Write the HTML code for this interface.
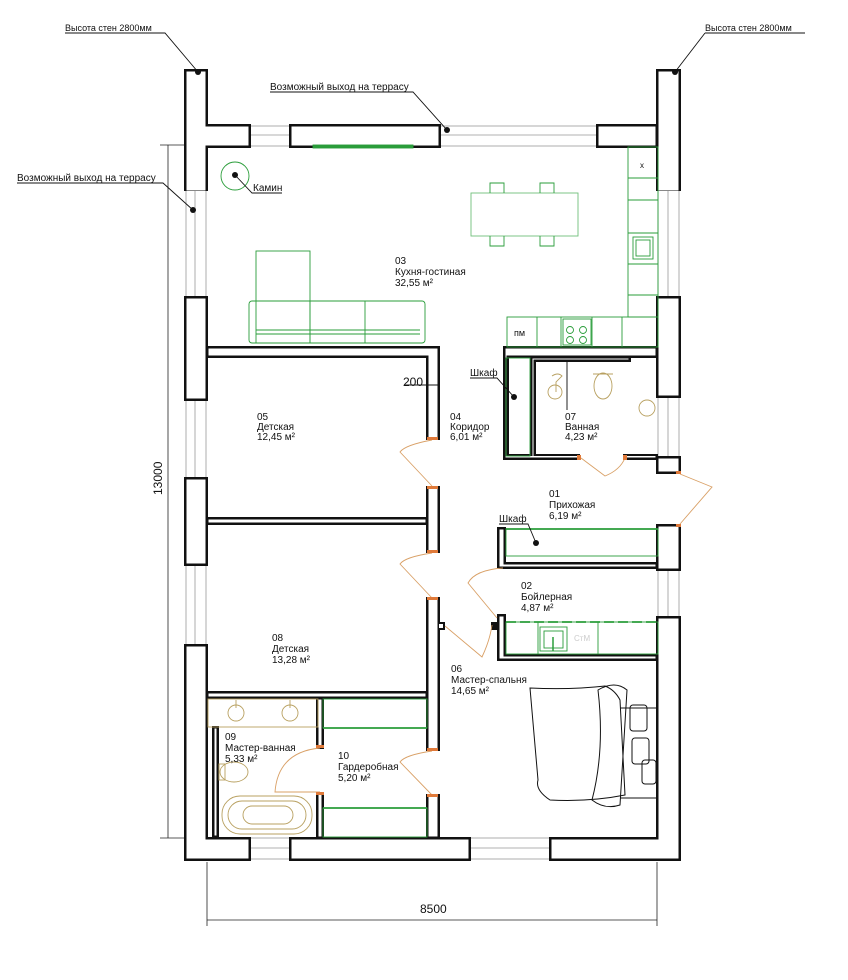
<!DOCTYPE html>
<html><head><meta charset="utf-8"><style>
html,body{margin:0;padding:0;background:#fff;}
svg{display:block;}
text{font-family:"Liberation Sans Narrow","Liberation Sans",sans-serif;font-size:10px;fill:#111;}
.t{font-size:10px;}
</style></head><body>
<svg width="848" height="980" viewBox="0 0 848 980" xmlns="http://www.w3.org/2000/svg">
<!-- dimensions -->
<g stroke="#222" stroke-width="0.8" fill="none">
<line x1="168" y1="145" x2="168" y2="838"/>
<line x1="160" y1="145" x2="185" y2="145"/>
<line x1="160" y1="838" x2="185" y2="838"/>
<line x1="207" y1="862" x2="207" y2="926"/>
<line x1="657" y1="862" x2="657" y2="926"/>
<line x1="207" y1="920" x2="657" y2="920"/>
</g>
<text x="162" y="495" transform="rotate(-90 162 495)" style="font-size:12px">13000</text>
<text x="420" y="913" style="font-size:12px">8500</text>

<!-- windows (thin grey lines) -->
<g stroke="#999" stroke-width="0.8" fill="#fff">
<rect x="250" y="126" width="40" height="20"/><line x1="250" y1="135" x2="290" y2="135"/>
<rect x="440" y="126" width="157" height="20"/><line x1="440" y1="135" x2="597" y2="135"/>
<rect x="186" y="190" width="20" height="107"/><line x1="195" y1="190" x2="195" y2="297"/>
<rect x="186" y="400" width="20" height="78"/><line x1="195" y1="400" x2="195" y2="478"/>
<rect x="186" y="565" width="20" height="80"/><line x1="195" y1="565" x2="195" y2="645"/>
<rect x="658" y="190" width="21" height="107"/><line x1="668" y1="190" x2="668" y2="297"/>
<rect x="658" y="397" width="21" height="60"/><line x1="668" y1="397" x2="668" y2="457"/>
<rect x="658" y="570" width="21" height="47"/><line x1="668" y1="570" x2="668" y2="617"/>
<rect x="250" y="838" width="40" height="21"/><line x1="250" y1="848" x2="290" y2="848"/>
<rect x="470" y="838" width="80" height="21"/><line x1="470" y1="848" x2="550" y2="848"/>
</g>

<!-- walls: black then white inset -->
<g fill="#111">
<rect x="184" y="69" width="24" height="122"/>
<rect x="184" y="124" width="67" height="24"/>
<rect x="289" y="124" width="152" height="24"/>
<rect x="596" y="124" width="62" height="24"/>
<rect x="656" y="69" width="25" height="122"/>
<rect x="184" y="296" width="24" height="105"/>
<rect x="184" y="477" width="24" height="89"/>
<rect x="184" y="644" width="24" height="217"/>
<rect x="184" y="837" width="67" height="24"/>
<rect x="289" y="837" width="182" height="24"/>
<rect x="549" y="837" width="132" height="24"/>
<rect x="656" y="296" width="25" height="102"/>
<rect x="656" y="456" width="25" height="18"/>
<rect x="656" y="524" width="25" height="47"/>
<rect x="656" y="616" width="25" height="245"/>
<!-- interior -->
<rect x="206" y="346" width="234" height="12"/>
<rect x="426" y="346" width="14" height="94"/>
<rect x="426" y="486" width="14" height="67"/>
<rect x="206" y="517" width="222" height="8"/>
<rect x="426" y="597" width="14" height="154"/>
<rect x="206" y="691" width="222" height="8"/>
<rect x="426" y="794" width="14" height="45"/>
<rect x="316" y="745" width="8" height="4"/>
<rect x="316" y="697" width="8" height="52"/>
<rect x="316" y="792" width="8" height="47"/>
<rect x="212" y="726" width="7" height="112"/>
<rect x="503" y="346" width="155" height="12"/>
<rect x="503" y="346" width="6" height="114"/>
<rect x="503" y="454" width="77" height="6"/>
<rect x="530" y="356" width="6" height="104"/>
<rect x="530" y="356" width="101" height="6"/>
<rect x="623" y="454" width="35" height="6"/>
<rect x="497" y="527" width="9" height="41"/>
<rect x="497" y="562" width="161" height="7"/>
<rect x="497" y="614" width="9" height="47"/>
<rect x="497" y="654" width="161" height="7"/>
<rect x="437" y="622" width="8" height="8"/>
<rect x="491" y="622" width="8" height="8"/>
</g>
<g fill="#fff">
<rect x="186.5" y="71.5" width="19" height="119"/>
<rect x="186.5" y="126.5" width="62" height="19"/>
<rect x="291.5" y="126.5" width="147" height="19"/>
<rect x="598.5" y="126.5" width="57" height="19"/>
<rect x="658.5" y="71.5" width="20" height="119"/>
<rect x="186.5" y="298.5" width="19" height="100"/>
<rect x="186.5" y="479.5" width="19" height="84"/>
<rect x="186.5" y="646.5" width="19" height="212"/>
<rect x="186.5" y="839.5" width="62" height="19"/>
<rect x="291.5" y="839.5" width="177" height="19"/>
<rect x="551.5" y="839.5" width="127" height="19"/>
<rect x="658.5" y="298.5" width="20" height="97"/>
<rect x="658.5" y="458.5" width="20" height="13"/>
<rect x="658.5" y="526.5" width="20" height="42"/>
<rect x="658.5" y="618.5" width="20" height="240"/>
<rect x="208.5" y="348.5" width="229" height="7"/>
<rect x="428.5" y="348.5" width="9" height="89"/>
<rect x="428.5" y="488.5" width="9" height="62"/>
<rect x="208.5" y="519.5" width="217" height="3"/>
<rect x="428.5" y="599.5" width="9" height="149"/>
<rect x="208.5" y="693.5" width="217" height="3"/>
<rect x="428.5" y="796.5" width="9" height="40"/>
<rect x="318.5" y="699.5" width="3" height="47"/>
<rect x="318.5" y="794.5" width="3" height="42"/>
<rect x="214.5" y="728.5" width="2" height="107"/>
<rect x="505.5" y="348.5" width="150" height="7"/>
<rect x="505.5" y="348.5" width="1" height="109"/>
<rect x="505.5" y="456" width="72" height="1.5"/>
<rect x="532.5" y="358.5" width="1" height="99"/>
<rect x="532.5" y="358.5" width="96" height="1"/>
<rect x="625.5" y="456" width="30" height="1.5"/>
<rect x="499.5" y="529.5" width="4" height="36"/>
<rect x="499.5" y="564.5" width="156" height="2"/>
<rect x="499.5" y="616.5" width="4" height="42"/>
<rect x="499.5" y="656.5" width="156" height="2"/>
<rect x="439" y="624" width="4" height="4"/>
</g>

<!-- door arcs -->
<g stroke="#d9a066" stroke-width="0.9" fill="none">
<path d="M432 440 Q405 445 400 452 L432 486"/>
<path d="M432 553 Q405 557 400 564 L432 598"/>
<path d="M432 751 Q405 755 400 762 L432 795"/>
<path d="M320 748 Q278 752 275 792 L320 792"/>
<path d="M581 458 L605 476 Q620 470 625 458"/>
<path d="M680 474 L712 487 L680 524"/>
<path d="M503 568 Q475 570 468 583 L497 618"/>
<path d="M445 626 L482 657 Q490 640 492 625"/>
</g>
<g fill="#e07a3a">
<rect x="427" y="437" width="11" height="3"/><rect x="427" y="486" width="11" height="3"/>
<rect x="427" y="550" width="11" height="3"/><rect x="427" y="597" width="11" height="3"/>
<rect x="427" y="748" width="11" height="3"/><rect x="427" y="794" width="11" height="3"/>
<rect x="316" y="745" width="8" height="3"/><rect x="316" y="792" width="8" height="3"/>
<rect x="577" y="455" width="4" height="5"/><rect x="623" y="455" width="4" height="5"/>
<rect x="676" y="471" width="5" height="3"/><rect x="676" y="524" width="5" height="3"/>
</g>

<!-- green furniture -->
<g stroke="#2a9d3a" stroke-width="0.9" fill="none">
<rect x="628" y="147" width="30" height="170"/>
<line x1="628" y1="178" x2="658" y2="178"/><line x1="628" y1="200" x2="658" y2="200"/>
<line x1="628" y1="233" x2="658" y2="233"/><line x1="628" y1="264" x2="658" y2="264"/>
<line x1="628" y1="295" x2="658" y2="295"/>
<rect x="633" y="237" width="20" height="22"/><rect x="636" y="240" width="14" height="16"/>
<rect x="507" y="317" width="151" height="30"/>
<line x1="537" y1="317" x2="537" y2="347"/><line x1="561" y1="317" x2="561" y2="347"/>
<line x1="592" y1="317" x2="592" y2="347"/><line x1="622" y1="317" x2="622" y2="347"/>
<rect x="563" y="319" width="28" height="26"/>
<circle cx="570" cy="330" r="3.5"/><circle cx="583" cy="330" r="3.5"/>
<circle cx="570" cy="340" r="3.5"/><circle cx="583" cy="340" r="3.5"/>
<rect x="471" y="193" width="107" height="43" stroke="#6fbf7a"/>
<path d="M490 193 v-10 h14 v10 M540 193 v-10 h14 v10 M490 236 v10 h14 v-10 M540 236 v10 h14 v-10"/>
<rect x="256" y="251" width="54" height="92"/>
<rect x="249" y="301" width="176" height="42" rx="3"/>
<line x1="310" y1="301" x2="310" y2="343"/><line x1="365" y1="301" x2="365" y2="343"/>
<line x1="256" y1="330" x2="420" y2="330"/><line x1="256" y1="334" x2="420" y2="334"/>
<rect x="313" y="145" width="100" height="3" fill="#2a9d3a"/>
<circle cx="235" cy="176" r="14"/>
<rect x="506" y="358" width="24" height="98"/>
<rect x="506" y="529" width="152" height="27"/>
<line x1="506" y1="529" x2="658" y2="529" stroke-width="1.8"/>
<rect x="506" y="622" width="152" height="32"/>
<line x1="506" y1="622" x2="658" y2="622" stroke-width="1.8" stroke-dasharray="10 4"/>
<line x1="538" y1="622" x2="538" y2="654"/><line x1="598" y1="622" x2="598" y2="654"/>
<rect x="540" y="627" width="27" height="24"/><rect x="544" y="631" width="19" height="17"/>
<line x1="553" y1="637" x2="553" y2="651" stroke-width="1.5"/>
<rect x="323" y="699" width="104" height="29"/>
<line x1="323" y1="728" x2="427" y2="728" stroke-width="1.8"/>
<rect x="323" y="808" width="104" height="29"/>
<line x1="323" y1="808" x2="427" y2="808" stroke-width="1.8"/>
</g>
<text x="640" y="168" style="font-size:8px">x</text>
<text x="514" y="336" style="font-size:9px">пм</text>
<text x="574" y="641" style="font-size:8px;fill:#ccc">СтМ</text>

<!-- beige fixtures -->
<g stroke="#b8a060" stroke-width="0.9" fill="none">
<rect x="208" y="699" width="110" height="28"/>
<circle cx="236" cy="713" r="8"/><circle cx="290" cy="713" r="8"/>
<line x1="236" y1="700" x2="236" y2="708"/><line x1="290" y1="700" x2="290" y2="708"/>
<ellipse cx="234" cy="772" rx="14" ry="10"/><rect x="219" y="764" width="6" height="16"/>
<rect x="222" y="796" width="90" height="38" rx="18"/>
<rect x="228" y="801" width="78" height="28" rx="14"/>
<rect x="243" y="806" width="50" height="18" rx="9"/>
<ellipse cx="603" cy="386" rx="9" ry="13"/><path d="M593 374 h20"/>
<circle cx="555" cy="392" r="7"/><path d="M552 376 q6 -4 10 0 l-6 6 v10"/>
<circle cx="647" cy="408" r="8"/>
</g>
<line x1="567" y1="362" x2="567" y2="410" stroke="#222" stroke-width="1"/>

<!-- bed -->
<g stroke="#111" stroke-width="1" fill="none">
<path d="M620 708 h38 v90 h-38"/>
<path d="M530 688 Q570 690 605 686 Q615 690 620 700 L625 795 Q590 802 550 800 Q535 790 538 780 Z"/>
<path d="M598 690 Q615 680 627 690 L620 805 Q605 810 592 800 Q605 750 598 690 Z"/>
<rect x="630" y="705" width="17" height="26" rx="3"/>
<rect x="632" y="738" width="17" height="26" rx="3"/>
<rect x="642" y="760" width="14" height="24" rx="3"/>
</g>

<!-- leaders -->
<g stroke="#111" stroke-width="0.9" fill="none">
<path d="M65 33 H165 L198 72"/>
<path d="M705 33 H805"/><path d="M705 33 L675 72"/>
<path d="M270 92 H413 L447 130"/>
<path d="M17 183 H163 L193 210"/>
<path d="M235 175 L252 193 H282"/>
<path d="M470 378 H497 L514 397"/>
<path d="M499 524 H528 L536 543"/>
<path d="M405 385 H440"/>
</g>
<g fill="#111">
<circle cx="198" cy="72" r="3"/><circle cx="675" cy="72" r="3"/>
<circle cx="447" cy="130" r="3"/><circle cx="193" cy="210" r="3"/>
<circle cx="235" cy="175" r="3"/><circle cx="514" cy="397" r="3"/>
<circle cx="536" cy="543" r="3"/>
</g>
<text x="65" y="31" style="font-size:9px">Высота стен 2800мм</text>
<text x="705" y="31" style="font-size:9px">Высота стен 2800мм</text>
<text x="270" y="90" style="font-size:10px">Возможный выход на террасу</text>
<text x="17" y="181" style="font-size:10px">Возможный выход на террасу</text>
<text x="253" y="191">Камин</text>
<text x="470" y="376">Шкаф</text>
<text x="499" y="522">Шкаф</text>
<text x="403" y="386" style="font-size:12px">200</text>

<!-- room labels -->
<text x="395" y="264">03</text><text x="395" y="275">Кухня-гостиная</text><text x="395" y="286">32,55 м²</text>
<text x="257" y="420">05</text><text x="257" y="430">Детская</text><text x="257" y="440">12,45 м²</text>
<text x="450" y="420">04</text><text x="450" y="430">Коридор</text><text x="450" y="440">6,01 м²</text>
<text x="565" y="420">07</text><text x="565" y="430">Ванная</text><text x="565" y="440">4,23 м²</text>
<text x="549" y="497">01</text><text x="549" y="508">Прихожая</text><text x="549" y="519">6,19 м²</text>
<text x="521" y="589">02</text><text x="521" y="600">Бойлерная</text><text x="521" y="611">4,87 м²</text>
<text x="272" y="641">08</text><text x="272" y="652">Детская</text><text x="272" y="663">13,28 м²</text>
<text x="451" y="672">06</text><text x="451" y="683">Мастер-спальня</text><text x="451" y="694">14,65 м²</text>
<text x="225" y="740">09</text><text x="225" y="751">Мастер-ванная</text><text x="225" y="762">5,33 м²</text>
<text x="338" y="759">10</text><text x="338" y="770">Гардеробная</text><text x="338" y="781">5,20 м²</text>
</svg>
</body></html>
